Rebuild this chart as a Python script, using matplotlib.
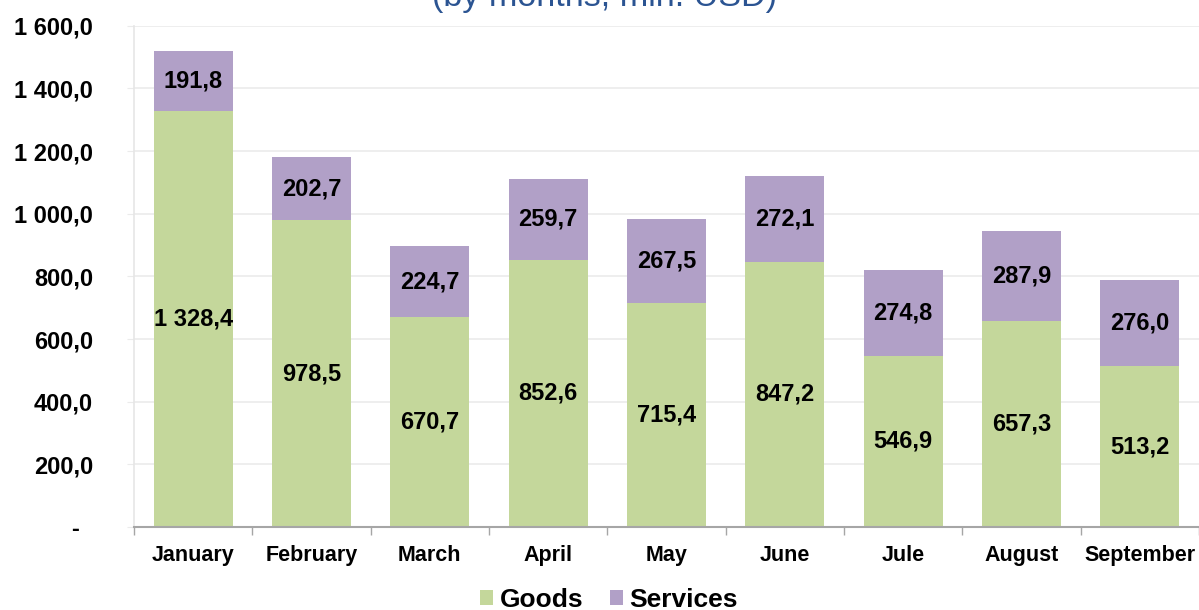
import matplotlib
matplotlib.use("Agg")
import matplotlib.pyplot as plt
from matplotlib.ticker import FuncFormatter, MultipleLocator
import numpy as np

months = ["January", "February", "March", "April", "May", "June", "Jule", "August", "September"]
goods = [1328.4, 978.5, 670.7, 852.6, 715.4, 847.2, 546.9, 657.3, 513.2]
services = [191.8, 202.7, 224.7, 259.7, 267.5, 272.1, 274.8, 287.9, 276.0]
title = "(by months, mln. USD)"

GREEN = "#c4d79b"
PURPLE = "#b1a0c7"

plt.rcParams['font.family'] = ['Liberation Sans', 'DejaVu Sans']
plt.rcParams['font.weight'] = 'bold'

def fmt(v):
    s = f"{v:,.1f}"
    return s.replace(",", " ").replace(".", ",")

fig = plt.figure(figsize=(11.99, 6.10), dpi=100)
ax = fig.add_axes([134/1199, 1 - 527/610, 1 - 134/1199, (527 - 25.7)/610])

x = np.arange(len(months))
w = 0.667
b1 = ax.bar(x, goods, w, color=GREEN, label="Goods", zorder=2)
b2 = ax.bar(x, services, w, bottom=goods, color=PURPLE, label="Services", zorder=2)

for xi, g, s in zip(x, goods, services):
    ax.text(xi, g / 2, fmt(g), ha='center', va='center', fontsize=17, fontweight='bold', zorder=3)
    ax.text(xi, g + s / 2, fmt(s), ha='center', va='center', fontsize=17, fontweight='bold', zorder=3)

ax.set_xlim(-0.5, len(months) - 0.5)
ax.set_ylim(0, 1600)
ax.yaxis.set_major_locator(MultipleLocator(200))
ax.yaxis.set_major_formatter(FuncFormatter(lambda v, p: "-  " if v == 0 else fmt(v)))
ax.grid(axis='y', color='#ebebeb', linewidth=1.2, zorder=0)
ax.set_axisbelow(True)

ax.set_xticks(x)
ax.set_xticklabels(months)
ax.set_xticks(np.arange(len(months) + 1) - 0.5, minor=True)
ax.tick_params(axis='x', which='major', length=0, labelsize=15.5, pad=13)
ax.tick_params(axis='x', which='minor', length=6, color='#a6a6a6', width=1)
ax.tick_params(axis='y', which='major', length=5, color='#ebebeb', labelsize=17, pad=24.5)

for side in ['top', 'right']:
    ax.spines[side].set_visible(False)
ax.spines['left'].set_color('#e6e6e6')
ax.spines['left'].set_linewidth(1.2)
ax.spines['bottom'].set_color('#a6a6a6')
ax.spines['bottom'].set_linewidth(1.5)

for lbl in ax.get_xticklabels() + ax.get_yticklabels():
    lbl.set_fontweight('bold')

fig.text(604.5/1199, 1 - 6/610, title, ha='center', va='baseline', fontsize=24.6,
         fontweight='normal', color='#2b5492')

fig.legend(handles=[b1, b2], labels=["Goods", "Services"], loc='lower center',
           bbox_to_anchor=(609/1199, -0.02), ncol=2, frameon=False,
           prop={'size': 19, 'weight': 'bold'}, handlelength=0.5, handleheight=0.5,
           handletextpad=0.25, columnspacing=1.0, borderaxespad=0)

fig.savefig("out.png", dpi=100)
